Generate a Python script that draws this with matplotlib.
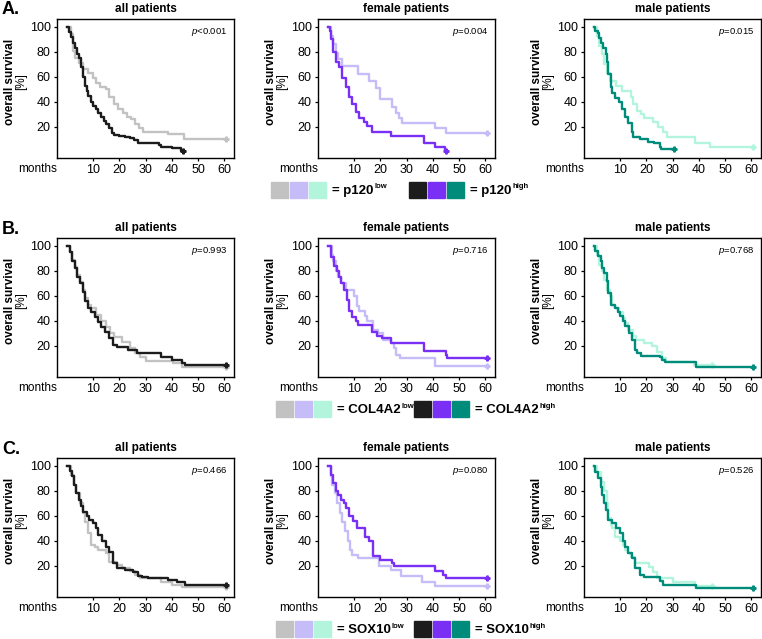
import matplotlib
matplotlib.use("Agg")
import matplotlib.pyplot as plt
from matplotlib.patches import Rectangle

plt.rcParams['font.family'] = ['Liberation Sans', 'DejaVu Sans']
plt.rcParams['mathtext.fontset'] = 'custom'
plt.rcParams['mathtext.rm'] = 'Liberation Sans'
plt.rcParams['mathtext.it'] = 'Liberation Sans:italic'
plt.rcParams['mathtext.bf'] = 'Liberation Sans:bold'

# ---------------- data ----------------
row_letters = ["A.", "B.", "C."]
col_titles = ["all patients", "female patients", "male patients"]
markers_names = ["p120", "COL4A2", "SOX10"]
p_values = [["<0.001", "=0.004", "=0.015"],
            ["=0.993", "=0.716", "=0.768"],
            ["=0.466", "=0.080", "=0.526"]]
x_ticks = [10, 20, 30, 40, 50, 60]
y_ticks = [20, 40, 60, 80, 100]

low_colors = ["#c2c2c2", "#c6bcf7", "#b2f5dc"]
high_colors = ["#1c1c1c", "#7a2ff5", "#008c7a"]

# Row A (p120)
A_all_lo_t = [0, 1.5, 2.2, 3.2, 4.5, 6, 8, 9.8, 11, 12.5, 15, 16.2, 18, 19.5, 21.3, 23, 24.5, 25.8, 27.5, 29, 38.5, 44.5, 60.5]
A_all_lo_s = [100, 94, 81, 75, 71, 66, 63, 59, 55, 52, 50, 44, 38, 34, 31, 28, 26, 22, 19, 16, 14, 10, 10]
A_all_hi_t = [0, 0.8, 1.5, 2.2, 3, 3.8, 4.5, 5.2, 6, 6.8, 7.5, 8.2, 9, 10, 11, 12, 13, 14, 15, 16, 17, 18, 20, 22, 24, 25.5, 27, 30, 35, 36, 40, 43.5, 44.2]
A_all_hi_s = [100, 96, 92, 87, 83, 78, 75, 68, 60, 53, 49, 45, 40, 37, 34, 31, 28, 25, 22, 19, 15, 13.5, 13, 12, 11, 9.5, 7.5, 7, 5.5, 4.3, 3, 1, 1]
A_fem_lo_t = [0, 1.2, 2, 3, 4, 5.5, 11.5, 15.5, 18.5, 20, 24.5, 26, 27, 28.4, 41, 45, 60.5]
A_fem_lo_s = [100, 93, 86, 79, 74, 69, 62, 57, 51, 42, 36, 31, 27, 23, 19, 15, 15]
A_fem_hi_t = [0, 0.8, 1.3, 2, 2.9, 4.2, 5.5, 6.7, 8, 9.3, 10.6, 11.8, 13.7, 15, 16.9, 23.9, 36.6, 41, 44.5, 44.9]
A_fem_hi_s = [100, 97, 90, 80, 72, 68, 59, 52, 44, 38, 32, 27, 24, 21, 16, 13, 7, 4, 1, 1]
A_mal_lo_t = [0, 1, 2, 3, 4, 5, 6, 8.5, 10.5, 14, 15, 16.4, 18, 19, 22.5, 24.5, 26.5, 27.9, 38.7, 44.4, 60.5]
A_mal_lo_s = [100, 93, 85, 78, 70, 63, 57, 53, 49, 44, 38, 33, 30, 27, 24, 20, 16, 12, 7, 4.3, 4.3]
A_mal_hi_t = [0, 0.5, 1.5, 2, 2.5, 3.5, 4.5, 5, 5.5, 6.5, 7, 8, 9.5, 10.5, 12, 13, 14.5, 15, 17.5, 20.5, 23, 25, 25.5, 30.5]
A_mal_hi_s = [100, 97, 95, 91, 87, 83, 78, 72, 62, 52, 47, 43, 40, 34, 28, 23, 16, 12, 10, 8, 7, 4, 2, 2]

# Row B (COL4A2)
B_all_lo_t = [0, 1, 2, 3, 4, 5, 6, 7, 8, 9, 11, 13, 15, 16.5, 18, 21, 24, 26, 28, 30, 40.5, 44, 60.5]
B_all_lo_s = [100, 95, 89, 83, 77, 71, 65, 58, 53, 50, 45, 40, 35, 30, 27, 23, 18, 14, 11, 8, 6, 3.5, 3.5]
B_all_hi_t = [0, 1, 2, 3, 4, 5, 6, 7, 8, 9, 10.5, 12, 13, 14.5, 16, 17.7, 19, 23.4, 26.6, 36, 40, 44, 45, 60.5]
B_all_hi_s = [100, 95, 88, 82, 75, 70, 63, 56, 50, 47, 43, 39, 35, 31, 26, 21, 19, 16.5, 14, 11, 8.5, 6, 5, 5]
B_fem_lo_t = [0, 1.5, 2, 3, 4, 5, 7, 10, 11, 12, 14, 15, 17, 19, 21, 24, 25, 26, 27.5, 41, 60.5]
B_fem_lo_s = [100, 93, 88, 80, 75, 70, 65, 60, 52, 48, 44, 40, 33, 30, 25, 22, 18, 13, 10, 4, 4]
B_fem_hi_t = [0, 1.3, 2.3, 3.3, 4.2, 5.1, 6.1, 7.1, 8, 9, 10.6, 11.5, 16.9, 18.8, 20.7, 23.9, 36.6, 44.9, 45.5, 60.5]
B_fem_hi_s = [100, 91, 84, 80, 75, 70, 65, 57, 48, 43, 40, 37, 31, 28, 26, 22, 16, 13, 10, 10]
B_mal_lo_t = [0, 1, 2, 3, 4, 5, 6, 7, 8, 9.5, 11, 12, 13, 15, 16, 19, 22, 24, 26, 27.5, 38, 45]
B_mal_lo_s = [100, 93, 85, 80, 73, 65, 60, 53, 50, 47, 42, 38, 33, 28, 25, 22, 20, 15, 10, 7, 5, 5]
B_mal_hi_t = [0, 0.5, 1.5, 2.5, 3, 4, 5, 5.5, 6.5, 8, 9, 10, 11, 12, 13.5, 14.5, 15.5, 16.5, 18, 25, 26, 27, 39, 60.5]
B_mal_hi_s = [100, 96, 92, 88, 82, 78, 72, 62, 53, 50, 47, 44, 40, 36, 30, 25, 17, 14, 12, 11, 9, 7, 3, 3]

# Row C (SOX10)
C_all_lo_t = [0, 1.5, 2.5, 3.5, 5, 6, 7, 8, 9, 10.5, 12, 15, 16, 19, 21, 24, 26, 28, 36, 40, 44, 60.5]
C_all_lo_s = [100, 93, 85, 78, 70, 62, 55, 46, 37, 35, 33, 30, 23, 21, 18, 16, 13, 10, 7, 5, 3, 3]
C_all_hi_t = [0, 1, 2, 2.5, 3.5, 4.5, 5.5, 6.2, 7.5, 8.5, 10, 11, 12, 13.5, 15, 16, 17.5, 19, 22, 25, 27, 28.5, 31, 38.5, 42, 45, 60.5]
C_all_hi_s = [100, 96, 92, 85, 78, 73, 68, 63, 60, 57, 54, 50, 45, 40, 35, 31, 22, 18, 17, 15, 12, 11, 10, 8.5, 7, 5, 5]
C_fem_lo_t = [0, 1, 1.5, 2.5, 3.5, 4.5, 5.5, 6.3, 7.5, 8.5, 9, 11.5, 19.5, 24, 28, 36, 41, 60.5]
C_fem_lo_s = [100, 92, 85, 78, 70, 62, 55, 48, 40, 33, 29, 26, 20, 17, 12, 7, 4, 4]
C_fem_hi_t = [0, 1.2, 2, 3, 4, 5, 6, 7, 8, 9.5, 11, 14, 15.5, 17, 20, 24.5, 25, 41, 44, 45, 60.5]
C_fem_hi_s = [100, 93, 86, 80, 77, 73, 70, 66, 60, 56, 50, 43, 40, 28, 25, 22, 20, 16, 13, 10, 10]
C_mal_lo_t = [0, 1, 2.5, 4, 5, 5.5, 6.5, 7, 8, 10, 11, 12, 13, 14, 15.5, 21, 22.5, 24, 30, 38.5, 45]
C_mal_lo_s = [100, 95, 87, 80, 70, 58, 53, 50, 43, 40, 37, 33, 30, 27, 22, 19, 15, 10, 7, 4, 4]
C_mal_hi_t = [0, 0.5, 1.5, 2.5, 3, 4, 4.5, 5.5, 7, 8.5, 10, 11, 12, 13, 14.5, 15.5, 17.5, 19, 25, 26.5, 39, 60.5]
C_mal_hi_s = [100, 95, 90, 83, 77, 70, 65, 57, 54, 50, 46, 40, 35, 30, 26, 18, 13, 11, 8, 5, 2, 2]

curves = [
    [(A_all_lo_t, A_all_lo_s, A_all_hi_t, A_all_hi_s),
     (A_fem_lo_t, A_fem_lo_s, A_fem_hi_t, A_fem_hi_s),
     (A_mal_lo_t, A_mal_lo_s, A_mal_hi_t, A_mal_hi_s)],
    [(B_all_lo_t, B_all_lo_s, B_all_hi_t, B_all_hi_s),
     (B_fem_lo_t, B_fem_lo_s, B_fem_hi_t, B_fem_hi_s),
     (B_mal_lo_t, B_mal_lo_s, B_mal_hi_t, B_mal_hi_s)],
    [(C_all_lo_t, C_all_lo_s, C_all_hi_t, C_all_hi_s),
     (C_fem_lo_t, C_fem_lo_s, C_fem_hi_t, C_fem_hi_s),
     (C_mal_lo_t, C_mal_lo_s, C_mal_hi_t, C_mal_hi_s)],
]

# ---------------- layout (pixels) ----------------
W, H = 762, 639
fig = plt.figure(figsize=(W / 100, H / 100), dpi=100)
renderer = fig.canvas.get_renderer()

def fx(x):
    return x / W

def fy(y):
    return 1 - y / H

ax_lefts = [57, 318, 584]
ax_tops = [19, 238, 458]
ax_w, ax_h = 177, 139
leg_x = [[271, 409], [276, 414], [276, 414]]

for r in range(3):
    top = ax_tops[r]
    fig.text(fx(2), fy(top - 9), row_letters[r], fontsize=13, fontweight='bold',
             ha='left', va='center')
    for c in range(3):
        left = ax_lefts[c]
        ax = fig.add_axes([fx(left), fy(top + ax_h), ax_w / W, ax_h / H])
        lo_t, lo_s, hi_t, hi_s = curves[r][c]
        ax.step(lo_t, lo_s, where='post', color=low_colors[c], lw=1.7, zorder=2)
        ax.step(hi_t, hi_s, where='post', color=high_colors[c], lw=1.7, zorder=3)
        ax.plot([lo_t[-1]], [lo_s[-1]], marker='P', ms=3.5, color=low_colors[c], zorder=2)
        ax.plot([hi_t[-1]], [hi_s[-1]], marker='P', ms=3.5, color=high_colors[c], zorder=3)
        ax.set_xlim(-3.82, 63.74)
        ax.set_ylim(-4.8, 106.2)
        ax.set_xticks(x_ticks)
        ax.set_yticks(y_ticks)
        ax.tick_params(labelsize=9, length=2.5, width=0.9, pad=2, direction='out')
        for sp in ax.spines.values():
            sp.set_linewidth(1.0)
        ax.text(1 - 7 / ax_w, 1 - 13 / ax_h, r'$\mathit{p}$' + p_values[r][c],
                transform=ax.transAxes, fontsize=6.8, ha='right', va='center')
        # title
        fig.text(fx(left + ax_w / 2), fy(top - 10), col_titles[c], fontsize=8.5,
                 fontweight='bold', ha='center', va='center')
        # y labels
        fig.text(fx(left - 47), fy(top + 63), 'overall survival', fontsize=8.5,
                 fontweight='bold', rotation=90, ha='center', va='center')
        fig.text(fx(left - 36), fy(top + 63), '[%]', fontsize=8.5,
                 rotation=90, ha='center', va='center')
        # months
        fig.text(fx(left), fy(top + ax_h + 11), 'months', fontsize=8.5,
                 ha='right', va='center')

    # legend
    ly = ax_tops[r] + ax_h + 24
    for k, x0 in enumerate(leg_x[r]):
        cols = low_colors if k == 0 else high_colors
        for j in range(3):
            fig.patches.append(Rectangle((fx(x0 + j * 19), fy(ly + 16)), 17 / W, 16 / H,
                                         transform=fig.transFigure, color=cols[j]))
        lab = 'low' if k == 0 else 'high'
        t = fig.text(fx(x0 + 61), fy(ly + 9), '= ' + markers_names[r],
                     fontsize=9.5, fontweight='bold', ha='left', va='center')
        bb = t.get_window_extent(renderer=renderer)
        fig.text(fx(x0 + 61) + (bb.width + 1) / W, fy(ly + 5), lab,
                 fontsize=5.5, fontweight='bold', ha='left', va='center')

fig.savefig('out.png', dpi=100)
